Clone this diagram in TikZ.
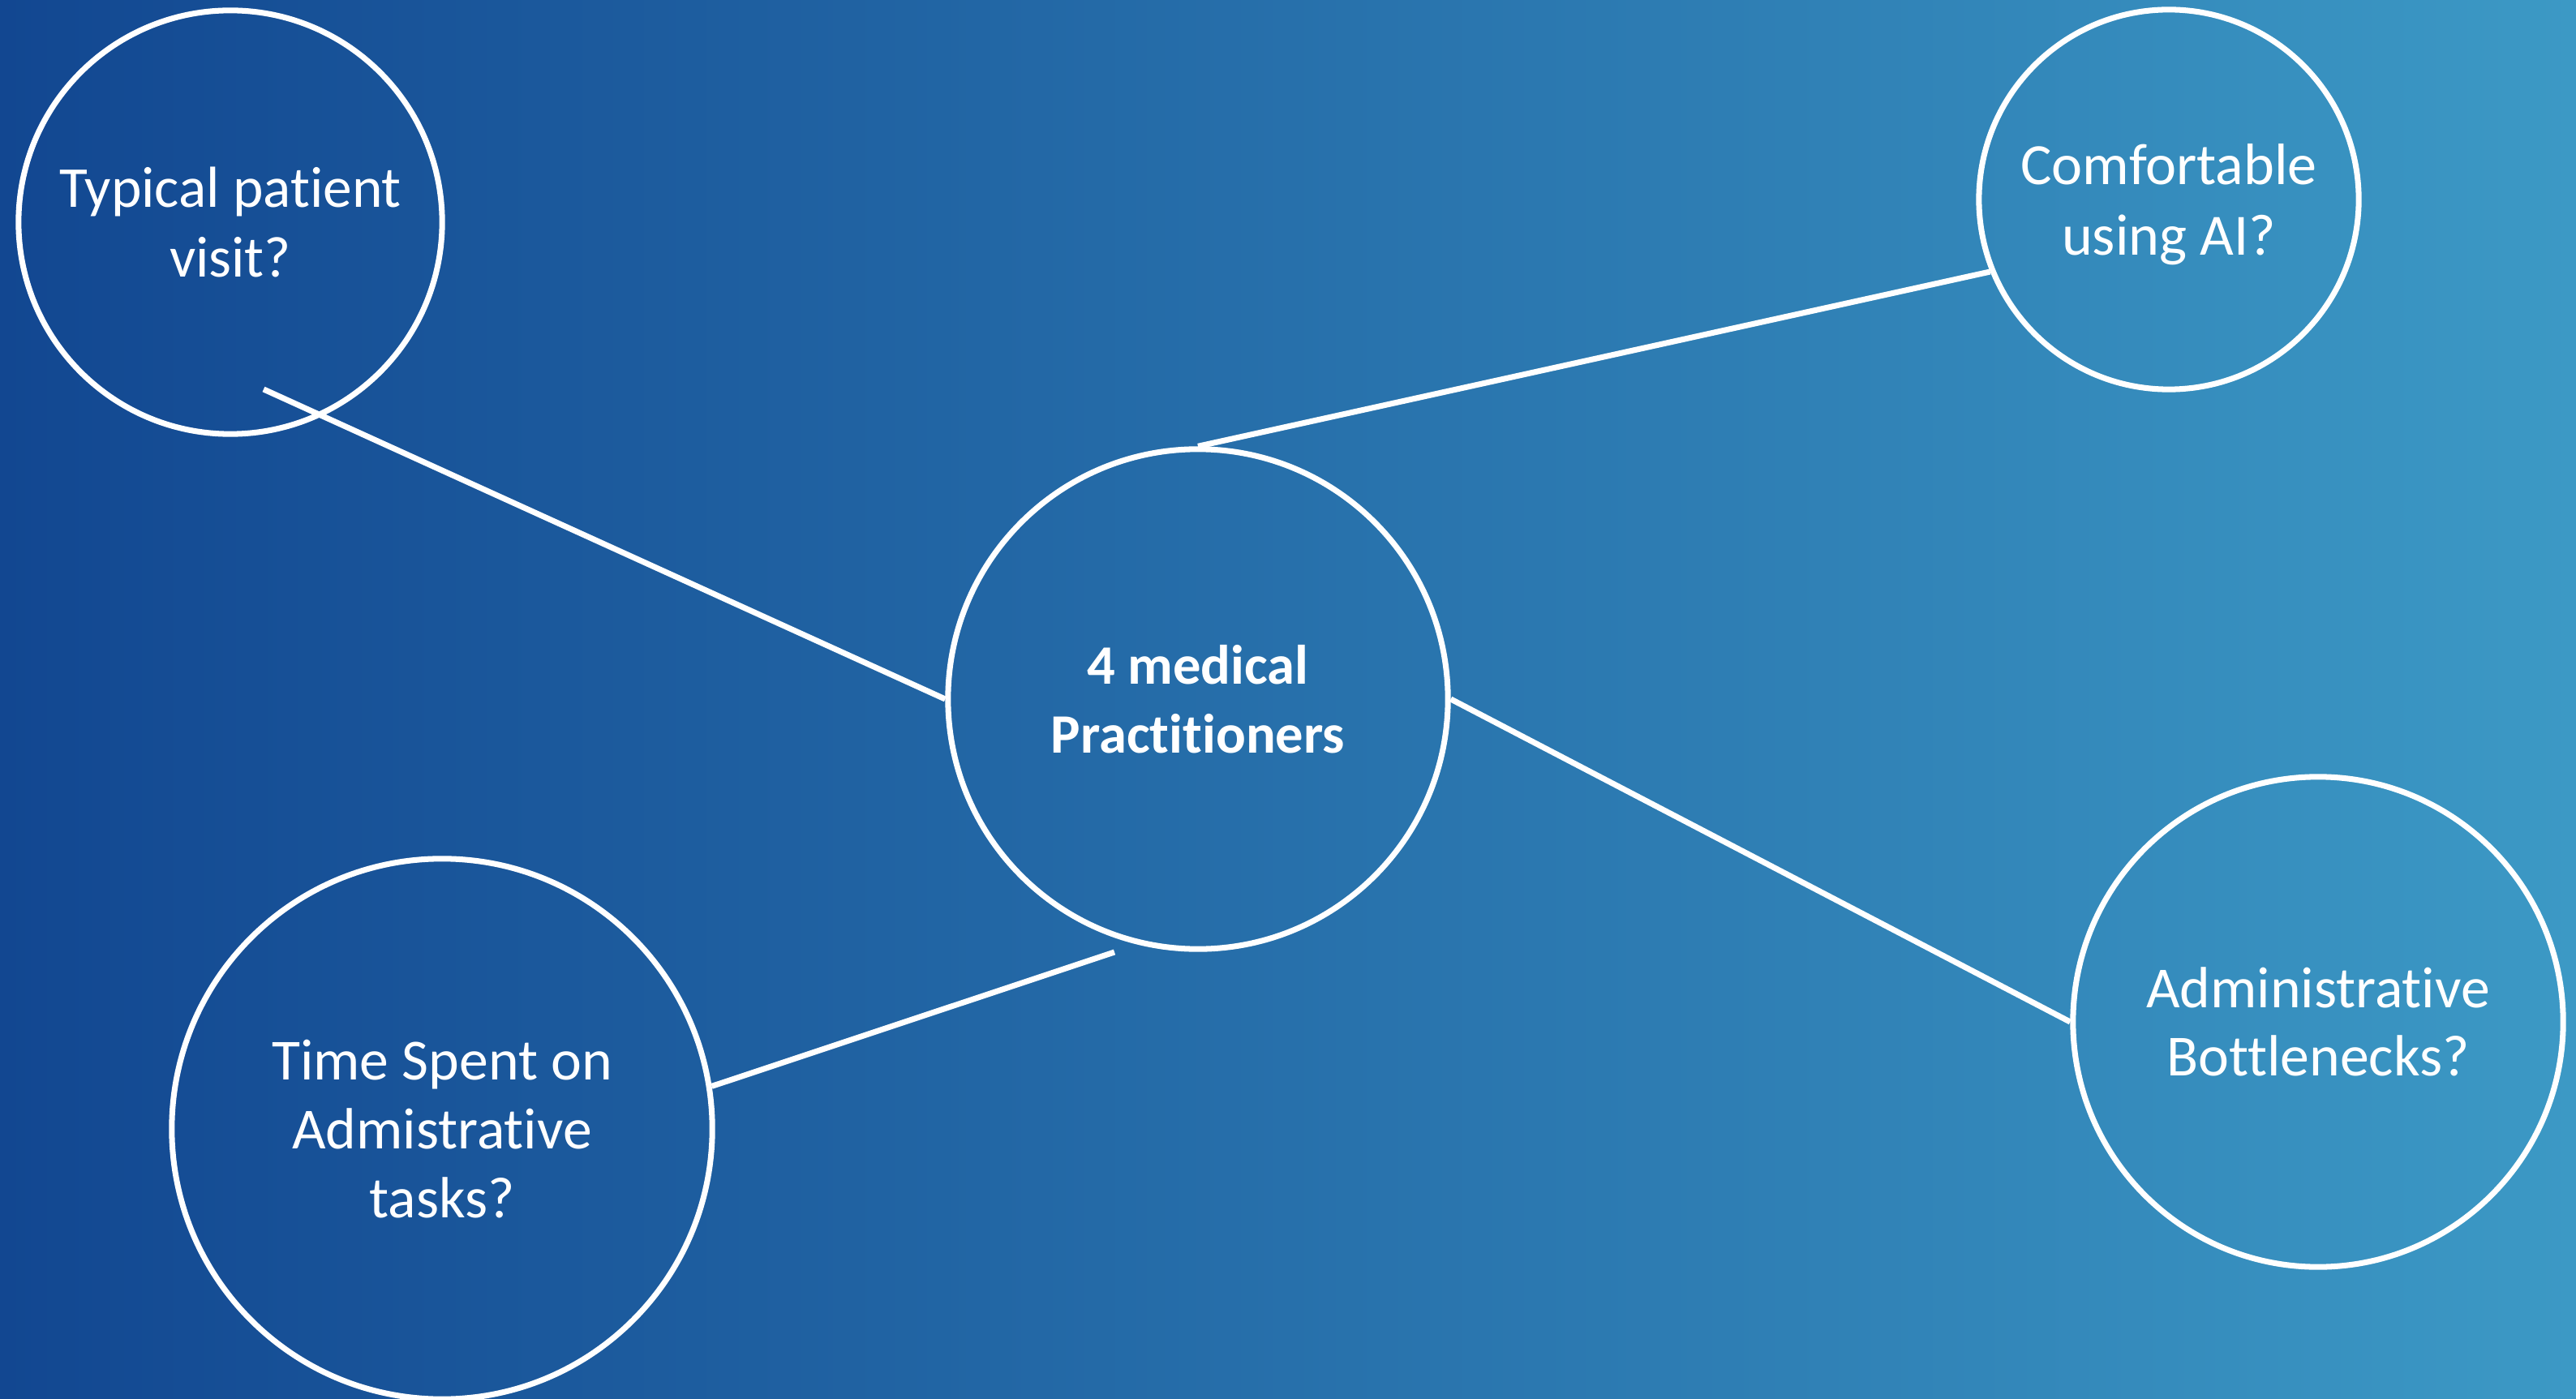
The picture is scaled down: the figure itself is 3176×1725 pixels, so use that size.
\documentclass[tikz,border=0pt]{standalone}
\usepackage{fontspec}
\setmainfont{Carlito}[Ligatures=NoCommon]
\usepackage{xcolor}
\usepackage{tikz}
\usetikzlibrary{calc}

\definecolor{bgleft}{RGB}{18,71,145}
\definecolor{bgright}{RGB}{60,153,197}

\begin{document}
\begin{tikzpicture}[x=0.01cm, y=-0.01cm]
    % Define styles
    \tikzstyle{topic} = [circle, draw=white, line width=2pt, text=white, align=center, inner sep=0pt]
    \tikzstyle{link} = [draw=white, line width=2pt]

    % Background
    \useasboundingbox (0,0) rectangle (3176,1725);
    \shade[left color=bgleft, right color=bgright] (0,0) rectangle (3176,1725);

    % Nodes
    \node[topic, minimum size=5.22cm, font=\fontsize{20.3}{24.5}\selectfont] (visit) at (284,274) {Typical patient\\visit?};
    \node[topic, minimum size=4.68cm, text depth=-0.1cm, font=\fontsize{20.5}{25}\selectfont] (comfort) at (2674,246) {Comfortable\\using AI?};
    \node[topic, minimum size=6.16cm, font=\bfseries\fontsize{19.5}{24.2}\selectfont] (ctr) at (1477,862) {4 medical\\Practitioners};
    \node[topic, minimum size=6.66cm, font=\fontsize{20.4}{24.2}\selectfont] (time) at (545,1392) {Time Spent on\\Admistrative\\tasks?};
    \node[topic, minimum size=6.04cm, font=\fontsize{20.4}{23.8}\selectfont] (admin) at (2858,1260) {Administrative\\Bottlenecks?};
    \coordinate (visittail) at (325,480);
    \coordinate (ctrtail) at (1374,1174);

    % Lines
    \draw[link] (visittail) -- (ctr.west);
    \draw[link] (ctr.north) -- (comfort.202);
    \draw[link] (ctr.east) -- (admin.west);
    \draw[link] (ctrtail) -- (time.9);
\end{tikzpicture}
\end{document}
